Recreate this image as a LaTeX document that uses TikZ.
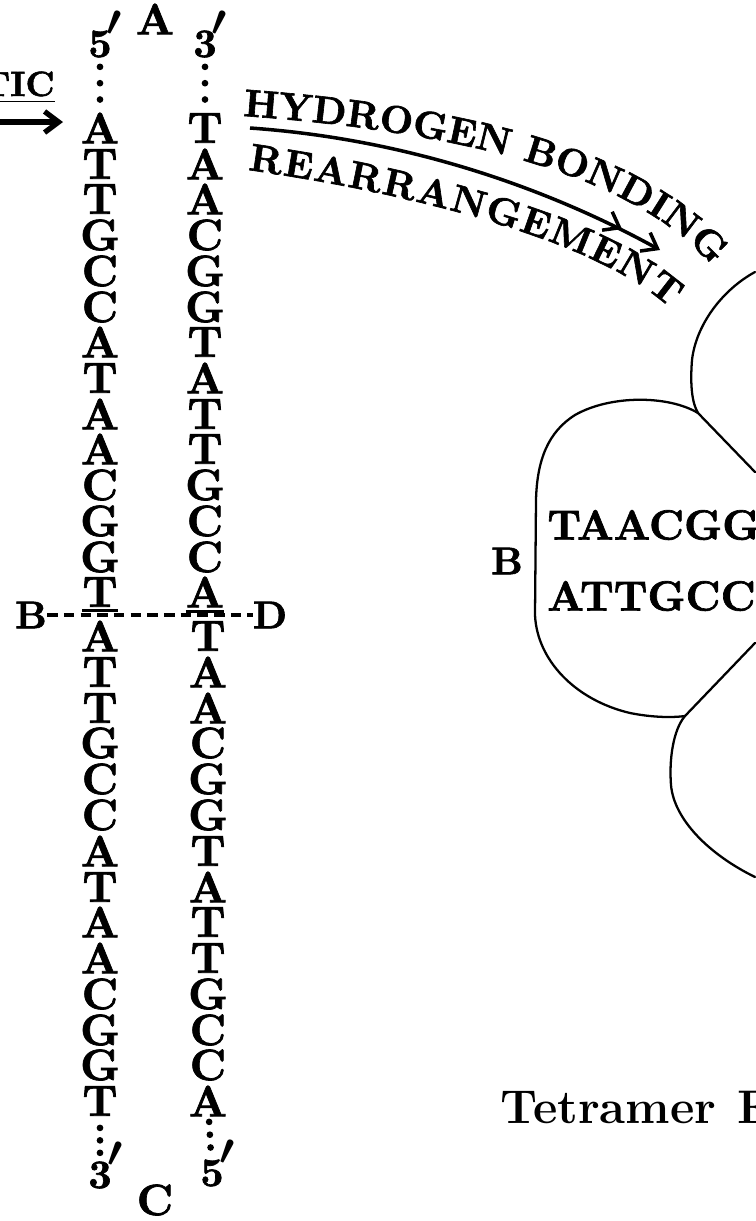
\documentclass[tikz,border=0pt]{standalone}
\usepackage{amsmath}
\usepackage{fontspec}
\usepackage{tikz}
\usetikzlibrary{arrows.meta,decorations.text}

\newfontfamily\heavyfont{lmroman10-bold.otf}[FakeBold=1.6]
\newcommand{\strandfont}{\heavyfont\fontsize{25}{25}\selectfont}
\newcommand{\lobefont}{\heavyfont\fontsize{24}{24}\selectfont}
\newcommand{\curvefont}{\heavyfont\fontsize{22}{22}\selectfont}
\newcommand{\tipfont}{\heavyfont\fontsize{23}{23}\selectfont\boldmath}

\begin{document}
\begin{tikzpicture}[x=0.02cm, y=-0.02cm,
    base/.style={inner sep=0pt, font=\strandfont},
    endmark/.style={inner sep=0pt, font=\tipfont},
    dotline/.style={line width=3.8pt, line cap=round, dash pattern=on 0pt off #1},
    lobe/.style={line width=1.3pt, line join=round, line cap=round}]
\useasboundingbox (0,0) rectangle (755,1221);

\node [base] (topA) at (155,19) {A};
\node [base] (botC) at (155,1200) {C};
\node [endmark] (p5a) at (100,44) {5};
\node [endmark, anchor=south] (p5ap) at ([xshift=1pt,yshift=-3pt]p5a.north east) {$\prime$};
\node [endmark] (p3a) at (205,44) {3};
\node [endmark, anchor=south] (p3ap) at ([xshift=1pt,yshift=-3pt]p3a.north east) {$\prime$};
\node [endmark] (p3b) at (100,1175) {3};
\node [endmark, anchor=south] (p3bp) at ([xshift=2pt,yshift=-3pt]p3b.north east) {$\prime$};
\node [endmark] (p5b) at (212,1173) {5};
\node [endmark, anchor=south] (p5bp) at ([xshift=2pt,yshift=-3pt]p5b.north east) {$\prime$};

\node [base] (l1) at (100,128) {A};
\node [base] (l2) at (100,164) {T};
\node [base] (l3) at (100,199) {T};
\node [base] (l4) at (100,235) {G};
\node [base] (l5) at (100,271) {C};
\node [base] (l6) at (100,307) {C};
\node [base] (l7) at (100,342) {A};
\node [base] (l8) at (100,378) {T};
\node [base] (l9) at (100,414) {A};
\node [base] (l10) at (100,449) {A};
\node [base] (l11) at (100,485) {C};
\node [base] (l12) at (100,521) {G};
\node [base] (l13) at (100,557) {G};
\node [base] (l14) at (100,592) {T};
\node [base] (l15) at (100,636) {A};
\node [base] (l16) at (100,672) {T};
\node [base] (l17) at (100,708) {T};
\node [base] (l18) at (100,743) {G};
\node [base] (l19) at (100,779) {C};
\node [base] (l20) at (100,815) {C};
\node [base] (l21) at (100,851) {A};
\node [base] (l22) at (100,887) {T};
\node [base] (l23) at (100,922) {A};
\node [base] (l24) at (100,958) {A};
\node [base] (l25) at (100,994) {C};
\node [base] (l26) at (100,1030) {G};
\node [base] (l27) at (100,1065) {G};
\node [base] (l28) at (100,1101) {T};

\node [base] (r1) at (205,128) {T};
\node [base] (r2) at (205,164) {A};
\node [base] (r3) at (205,199) {A};
\node [base] (r4) at (205,235) {C};
\node [base] (r5) at (205,271) {G};
\node [base] (r6) at (205,307) {G};
\node [base] (r7) at (205,342) {T};
\node [base] (r8) at (205,378) {A};
\node [base] (r9) at (205,414) {T};
\node [base] (r10) at (205,449) {T};
\node [base] (r11) at (205,485) {G};
\node [base] (r12) at (205,521) {C};
\node [base] (r13) at (205,557) {C};
\node [base] (r14) at (205,592) {A};
\node [base] (r15) at (208,636) {T};
\node [base] (r16) at (208,672) {A};
\node [base] (r17) at (208,708) {A};
\node [base] (r18) at (208,743) {C};
\node [base] (r19) at (208,779) {G};
\node [base] (r20) at (208,815) {G};
\node [base] (r21) at (208,851) {T};
\node [base] (r22) at (208,887) {A};
\node [base] (r23) at (208,922) {T};
\node [base] (r24) at (208,958) {T};
\node [base] (r25) at (208,994) {G};
\node [base] (r26) at (208,1030) {C};
\node [base] (r27) at (208,1065) {C};
\node [base] (r28) at (208,1101) {A};

\draw [dotline=9.3pt, shorten <=13pt, shorten >=15.9pt] (p5a.center) -- (l1.center);
\draw [dotline=9.3pt, shorten <=13pt, shorten >=15.9pt] (p3a.center) -- (r1.center);
\draw [dotline=7.1pt, shorten <=15.3pt, shorten >=12.5pt] (l28.center) -- (p3b.center);
\draw [dotline=7.3pt, shorten <=11.9pt, shorten >=14.2pt] (r28.center) -- (p5b.center);

\node [inner sep=0pt, font=\heavyfont\fontsize{22}{22}\selectfont] (bdB) at (31,615) {B};
\node [inner sep=0pt, font=\heavyfont\fontsize{22}{22}\selectfont] (bdD) at (270,615) {D};
\draw [line width=2pt, dash pattern=on 6pt off 3.5pt] (bdB) -- (bdD);
\draw [line width=1.8pt] ([yshift=-2pt]l14.south west) -- ([yshift=-2pt]l14.south east);
\draw [line width=1.8pt] ([yshift=-2pt]r14.south west) -- ([yshift=-2pt]r14.south east);

\node [inner sep=0pt, anchor=base east, font=\heavyfont\fontsize{20}{20}\selectfont] (tic) at (55,96) {\underline{TIC}};
\coordinate (ticL) at (0,122);
\coordinate (ticR) at (63,122);
\draw [line width=3pt, -{Straight Barb[length=8pt,width=12pt]}] (ticL) -- (ticR);

\path [decorate, decoration={text along path, text align={fit to path},
    text={|\curvefont|HYDROGEN BONDING}}]
    (243,116) .. controls (410,128) and (622,160) .. (712,266);
\path [decorate, decoration={text along path, text align={fit to path},
    text={|\curvefont|REARRANGEMENT}}]
    (248,170) .. controls (390,190) and (590,235) .. (670,308);
\coordinate (hbs) at (250,128);
\coordinate (hbe) at (660,250);
\draw [line width=2pt, -{Straight Barb[length=8pt,width=12pt,sep=14pt]Straight Barb[length=8pt,width=12pt]}]
    (hbs) .. controls (420,140) and (560,195) .. (hbe);

\coordinate (j1) at (698,413);
\coordinate (j2) at (685,716);
\draw [lobe] (755,272) .. controls (722,290) and (696,325) .. (692,360) .. controls (690,385) and (692,403) .. (j1);
\draw [lobe] (j1) -- (755,472);
\draw [lobe] (j1) .. controls (668,395) and (610,395) .. (575,415)
    .. controls (548,432) and (537,460) .. (536,500) -- (535,615)
    .. controls (537,660) and (575,700) .. (630,713)
    .. controls (650,717) and (670,718) .. (j2);
\draw [lobe] (j2) -- (755,643);
\draw [lobe] (j2) .. controls (673,730) and (669,760) .. (671,785) .. controls (674,820) and (710,855) .. (755,877);

\node [inner sep=0pt, font=\heavyfont\fontsize{22}{22}\selectfont] (lobeB) at (507,561) {B};
\node [inner sep=0pt, anchor=west, font=\lobefont] (tq1) at (547,525) {TAACGG};
\node [inner sep=0pt, anchor=west, font=\lobefont] (tq2) at (547,596) {ATTGCC};

\node [inner sep=0pt, anchor=base west, font=\fontsize{27}{27}\selectfont\bfseries] (tetra) at (500,1123) {Tetramer\hspace{0.45em}F};
\end{tikzpicture}
\end{document}
